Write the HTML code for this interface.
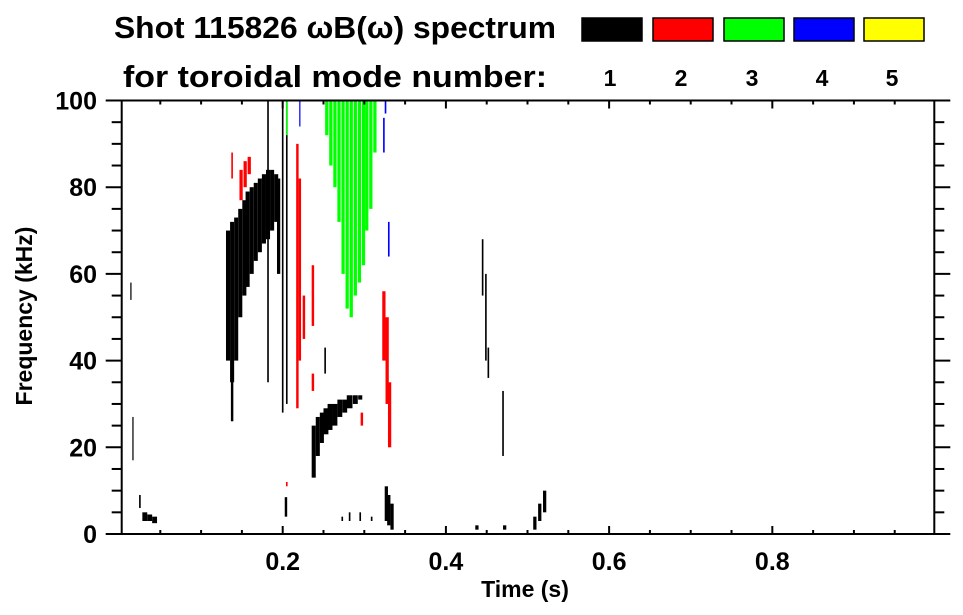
<!DOCTYPE html>
<html><head><meta charset="utf-8">
<style>
body{margin:0;background:#fff;}
svg{display:block;font-family:"Liberation Sans",Arial,sans-serif;font-weight:bold;}
</style></head>
<body>
<svg id="chart" width="963" height="615" viewBox="0 0 963 615" xmlns="http://www.w3.org/2000/svg">
<rect width="963" height="615" fill="#fff"/>
<text x="114" y="38" font-size="31" textLength="442" lengthAdjust="spacingAndGlyphs">Shot 115826 ωB(ω) spectrum</text>
<text x="123" y="87" font-size="31" textLength="424" lengthAdjust="spacingAndGlyphs">for toroidal mode number:</text>
<g id="legend"></g>
<g id="marks"></g>
<g id="axes"></g>
<text x="525" y="597" font-size="23" text-anchor="middle">Time (s)</text>
<text transform="translate(32,316) rotate(-90)" font-size="23" text-anchor="middle">Frequency (kHz)</text>
</svg>
<script>
// ---- data ----
const modeNumbers = [1,2,3,4,5];
const modeColors = ['#000000','#ff0000','#00ff00','#0000ff','#ffff00'];
const xTicks = [0.2,0.4,0.6,0.8];
const yTicks = [0,20,40,60,80,100];
// strips: time (s), low freq (kHz), high freq (kHz), duration (s), mode
const stripTime = [0.133,0.138,0.143,0.148,0.153,0.157,0.162,0.167,0.172,0.177,0.182,0.187,0.192,0.195,0.138,0.182,0.200,0.205,0.252,
 0.238,0.243,0.248,0.253,0.258,0.264,0.270,0.276,0.282,0.289,0.295,
 0.204,0.273,0.282,0.295,0.309,0.327,0.330,0.334,
 0.0165,0.025,0.031,0.037,0.043,0.014,
 0.445,0.449,0.452,0.470,0.438,0.472,0.509,0.515,0.521,
 0.138,0.149,0.154,0.159,0.218,0.221,0.226,0.237,0.237,0.205,0.297,0.324,0.328,0.331,
 0.254,0.259,0.264,0.269,0.274,0.279,0.284,0.289,0.294,0.299,0.303,0.308,0.313,0.205,
 0.221,0.324,0.326,0.330];
const stripLow = [40,35,40,50,55,57,60,63,65,67,68,70,72,60,26,35,28,30,37,
 13,18,21,23,24,25,27,28,29,30,31,
 4,3,3,3,3,3,2,1,
 17,6,3,3,2.5,54,
 55,40,36,18,1,1,1,3,5,
 82,77,80,83,29,40,45,33,48,11,25,40,30,20,
 92,85,80,72,60,52,50,55,58,62,70,75,88,92,
 94,88,97,64];
const stripHigh = [70,72,73,75,77,79,80,81,82,83,84,84,83,82,45,100,100,100,43,
 25,27,28,29,30,30,31,31,32,32,32,
 8.5,4,5,5,4,11,9,7,
 27,9,5,4.5,4,58,
 68,60,43,33,2,2,4,7,10,
 88,84,86,87,90,82,55,37,62,12,28,56,50,35,
 100,100,100,100,100,100,100,100,100,100,100,100,100,100,
 100,96,100,72];
const stripDur = [0.005,0.005,0.005,0.005,0.005,0.005,0.005,0.005,0.005,0.005,0.005,0.005,0.005,0.004,0.003,0.002,0.002,0.002,0.002,
 0.005,0.005,0.005,0.006,0.006,0.006,0.006,0.006,0.007,0.006,0.005,
 0.003,0.002,0.002,0.002,0.002,0.004,0.004,0.004,
 0.0015,0.002,0.006,0.006,0.006,0.0015,
 0.002,0.002,0.002,0.002,0.004,0.004,0.004,0.004,0.004,
 0.002,0.004,0.004,0.004,0.003,0.003,0.003,0.003,0.003,0.002,0.003,0.004,0.004,0.004,
 0.004,0.004,0.004,0.004,0.004,0.004,0.004,0.004,0.004,0.004,0.004,0.004,0.004,0.002,
 0.0015,0.002,0.002,0.002];
const stripMode = [1,1,1,1,1,1,1,1,1,1,1,1,1,1,1,1,1,1,1,
 1,1,1,1,1,1,1,1,1,1,1,
 1,1,1,1,1,1,1,1,
 1,1,1,1,1,1,
 1,1,1,1,1,1,1,1,1,
 2,2,2,2,2,2,2,2,2,2,2,2,2,2,
 3,3,3,3,3,3,3,3,3,3,3,3,3,3,
 4,4,4,4];

// ---- scales ----
const L=121.7,R=934.3,T=100.5,B=534;
const tMin=0.0027,tMax=0.9985,fMin=0,fMax=100;
const sx=t=>L+(t-tMin)/(tMax-tMin)*(R-L);
const sy=f=>B-(f-fMin)/(fMax-fMin)*(B-T);
const NS='http://www.w3.org/2000/svg';
function mk(tag,attrs,parent){const e=document.createElementNS(NS,tag);for(const k in attrs)e.setAttribute(k,attrs[k]);parent.appendChild(e);return e;}

// marks
const marks=document.getElementById('marks');
for(let i=0;i<stripTime.length;i++){
  const x0=sx(stripTime[i]-stripDur[i]/2),x1=sx(stripTime[i]+stripDur[i]/2);
  const r=mk('rect',{x:x0,y:sy(stripHigh[i]),width:Math.max(1,x1-x0),height:sy(stripLow[i])-sy(stripHigh[i]),fill:modeColors[stripMode[i]-1]},marks);
  
  
}

// legend
const lg=document.getElementById('legend');
const lgX=[582,653,724,794,864];
for(let i=0;i<modeNumbers.length;i++){
  const b=mk('rect',{x:lgX[i],y:18,width:60,height:23,fill:modeColors[i],stroke:'#000','stroke-width':1.5},lg);
  
  
  const t=mk('text',{x:lgX[i]+28,y:86,'font-size':23,'text-anchor':'middle'},lg);
  t.textContent=modeNumbers[i];
  
  
}

// axes
const ax=document.getElementById('axes');
const st={stroke:'#000','stroke-width':2};
mk('rect',{x:L,y:T,width:R-L,height:B-T,fill:'none',stroke:'#000','stroke-width':2},ax);
for(let f=0;f<=100;f+=5){
  const major=f%20===0,len=major?16:10,y=sy(f);
  mk('line',Object.assign({x1:L-len,y1:y,x2:L,y2:y},st),ax);
  mk('line',Object.assign({x1:R,y1:y,x2:R+len,y2:y},st),ax);
}
yTicks.forEach(v=>{
  const t=mk('text',{x:97,y:sy(v)+9,'font-size':25,'text-anchor':'end'},ax);
  t.textContent=v;
  
  
});
for(let k=1;k<20;k++){
  const v=k*0.05,major=k%4===0,len=major?8:4,x=sx(v);
  mk('line',Object.assign({x1:x,y1:B,x2:x,y2:B-len},st),ax);
  mk('line',Object.assign({x1:x,y1:T,x2:x,y2:T+len},st),ax);
}
xTicks.forEach(v=>{
  const t=mk('text',{x:sx(v),y:570,'font-size':25,'text-anchor':'middle'},ax);
  t.textContent=v.toFixed(1);
  
  
});
</script>
</body></html>
